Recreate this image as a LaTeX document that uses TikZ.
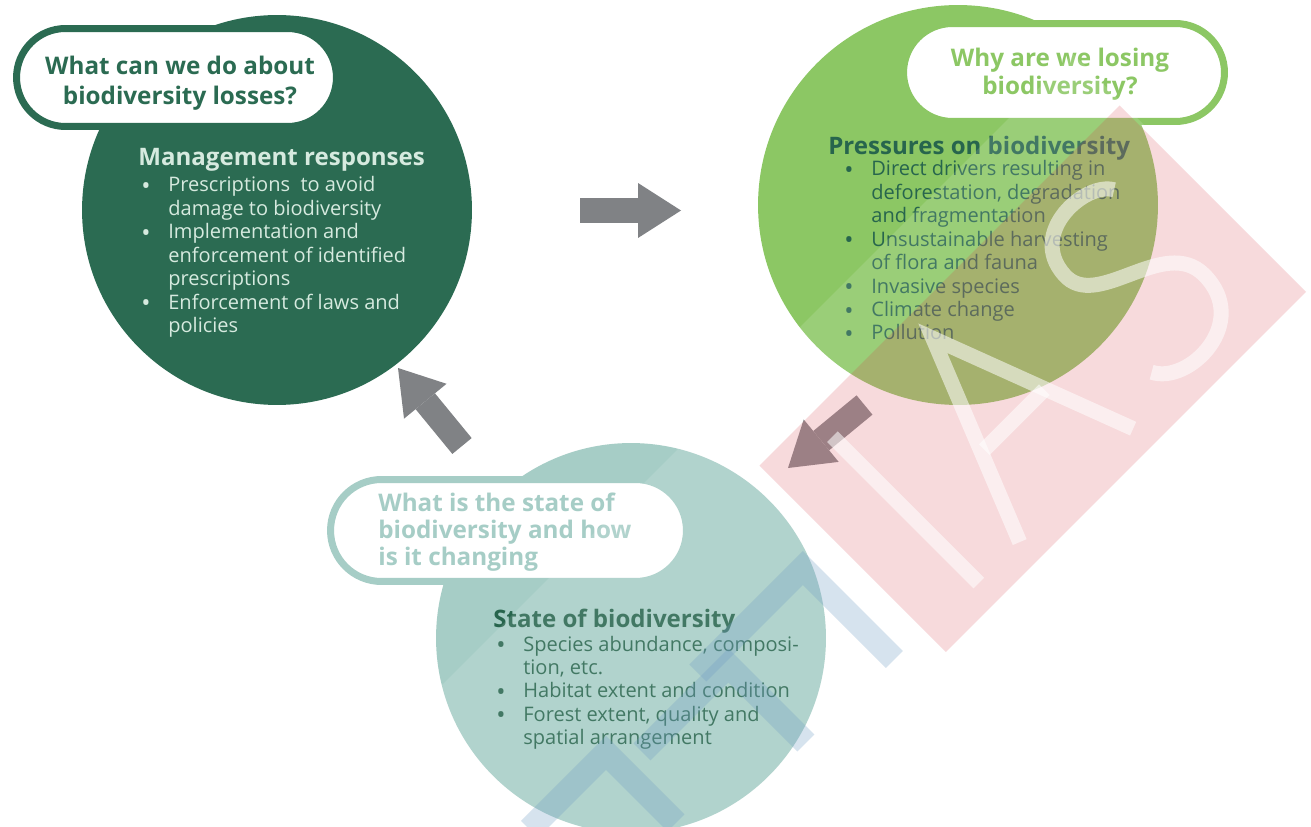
\documentclass[tikz,border=0pt]{standalone}
\usepackage{fontspec}
\setmainfont{Open Sans}
\usetikzlibrary{arrows.meta}

\definecolor{forest}{HTML}{2B6B52}
\definecolor{leaf}{HTML}{8CC764}
\definecolor{sea}{HTML}{A6CDC6}
\definecolor{pale}{HTML}{D6EADF}
\definecolor{deep}{HTML}{27654D}
\definecolor{slate}{HTML}{808285}
\definecolor{stamp}{RGB}{215,50,65}
\definecolor{ink}{RGB}{110,155,195}

\newlength\pxl
\setlength\pxl{0.02cm}
\newcommand\blist[1]{\begin{tabular}[t]{@{}p{27\pxl}@{}l@{}}#1\end{tabular}}
\newcommand\bu{\smash{\fontsize{14}{10}\selectfont\raisebox{-0.2ex}{\textbullet}}}

\tikzset{
  disc/.style={circle, draw=none, inner sep=0pt, minimum size=#1},
  bubble/.style={rectangle, rounded corners=0.98cm, fill=white, line width=0.14cm, inner sep=0pt},
  asktext/.style={inner sep=0pt, font={\bfseries\fontsize{13.8}{#1}\selectfont}},
  headtext/.style={anchor=base west, inner sep=0pt, font={\bfseries\fontsize{13.7}{16}\selectfont}},
  listtext/.style={anchor=base west, inner sep=0pt, font={\fontsize{11.4}{13.32}\selectfont}},
  flow/.style={draw=slate, line width=0.5cm,
    -{Triangle[width=1.1cm,length=0.86cm,line width=0pt]}},
  lettercut/.style={draw=white, line width=0.3cm, opacity=0.55},
  bluestroke/.style={draw=ink, line width=0.48cm, line join=miter, opacity=0.28},
}

\begin{document}
\begin{tikzpicture}[x=0.02cm, y=-0.02cm]
\fill[white] (0,0) rectangle (1311,827);
\useasboundingbox (0,0) rectangle (1311,827);

% the three circles of the cycle
\node[disc=7.8cm, fill=forest] (respond) at (277,210) {};
\node[disc=8cm, fill=leaf] (pressure) at (958,205) {};
\node[disc=7.8cm, fill=sea] (state) at (631,638) {};

% block arrows between the circles
\coordinate (a1s) at (580,210.5);
\coordinate (a1e) at (681,210.5);
\coordinate (a2s) at (864.5,405);
\coordinate (a2e) at (788,468);
\coordinate (a3s) at (462,446);
\coordinate (a3e) at (398,368);
\draw[flow] (a1s) -- (a1e);
\draw[flow] (a2s) -- (a2e);
\draw[flow] (a3s) -- (a3e);

% question bubbles
\node[bubble, draw=forest, minimum width=6.4cm, minimum height=1.96cm] (qbox1) at (176.5,77.5) {};
\node[bubble, draw=leaf, minimum width=6.42cm, minimum height=1.96cm] (qbox2) at (1064,72.5) {};
\node[bubble, draw=sea, rounded corners=1.02cm, minimum width=7.12cm, minimum height=2.04cm] (qbox3) at (508.5,530.5) {};

\node[asktext=17, text=forest, align=center] (ask1) at (180,83)
  {What can we do about\\biodiversity losses?};
\node[asktext=15.9, text=leaf, align=center] (ask2) at (1060,74.5)
  {Why are we losing\\biodiversity?};
\node[asktext=15.3, text=sea, align=left, anchor=west] (ask3) at (378,532)
  {What is the state of\\biodiversity and how\\is it changing};

% management responses
\node[headtext, text=pale] (head1) at (138,166) {Management responses};
\node[listtext, text=pale] (list1) at (141,192) {\blist{
  \bu & Prescriptions\ \ to avoid\\
      & damage to biodiversity\\
  \bu & Implementation and\\
      & enforcement of identified\\
      & prescriptions\\
  \bu & Enforcement of laws and\\
      & policies}};

% pressures on biodiversity
\node[headtext, text=deep] (head2) at (828,155) {Pressures on biodiversity};
\node[listtext, text=deep] (list2) at (844,176) {\blist{
  \bu & Direct drivers resulting in\\
      & deforestation, degradation\\
      & and fragmentation\\
  \bu & Unsustainable harvesting\\
      & of flora and fauna\\
  \bu & Invasive species\\
  \bu & Climate change\\
  \bu & Pollution}};

% state of biodiversity
\node[headtext, text=deep] (head3) at (493,627) {State of biodiversity};
\node[listtext, text=deep] (list3) at (496,651) {\blist{
  \bu & Species abundance, composi-\\
      & tion, etc.\\
  \bu & Habitat extent and condition\\
  \bu & Forest extent, quality and\\
      & spatial arrangement}};

% stamp laid diagonally over the lower right
\begin{scope}[x={(0.01cm,0.01cm)}, y={(0.01cm,-0.01cm)}]
  \fill[white, opacity=0.13] (-800,1128) -- (1020,1128) -- (1020,1650) -- (-800,1650) -- cycle;
  \fill[stamp, opacity=0.18] (294,1226) -- (1015,1226) -- (1015,1599) -- (294,1599) -- cycle;
  \draw[lettercut] (396,1270) -- (396,1563);
  \draw[lettercut, line join=miter] (478,1563) -- (595,1272) -- (705,1563);
  \draw[lettercut] (535,1435) -- (655,1435);
  \draw[lettercut] (925,1305) .. controls (905,1268) and (795,1260) .. (790,1340)
    .. controls (785,1410) and (930,1400) .. (930,1480)
    .. controls (930,1575) and (805,1575) .. (780,1525);
  \draw[bluestroke] (25,1372) -- (235,1372) -- (235,1555);
  \draw[bluestroke] (-110,1395) -- (63,1395) -- (63,1550);
  \draw[bluestroke] (-300,1360) -- (-147,1360) -- (-147,1500);
\end{scope}
\end{tikzpicture}
\end{document}
